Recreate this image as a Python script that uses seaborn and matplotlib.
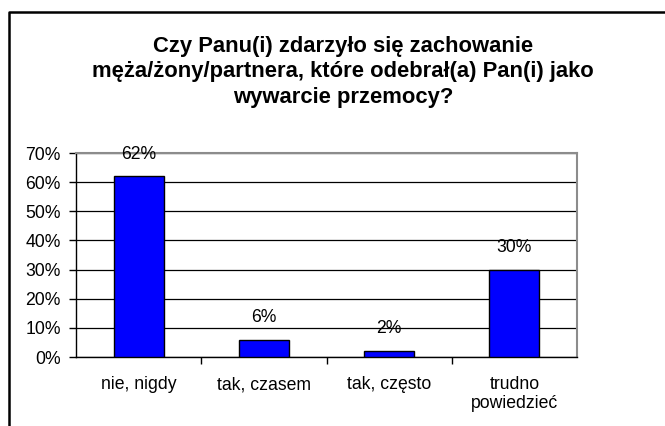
import matplotlib.pyplot as plt
import pandas as pd
import seaborn as sns
from matplotlib.lines import Line2D
from matplotlib.ticker import MultipleLocator, PercentFormatter

TITLE = "Czy Panu(i) zdarzyło się zachowanie\nmęża/żony/partnera, które odebrał(a) Pan(i) jako\nwywarcie przemocy?"
CATEGORIES = ["nie, nigdy", "tak, czasem", "tak, często", "trudno\npowiedzieć"]
VALUES = [62, 6, 2, 30]

BAR_COLOR = "#0000FF"

sns.set_theme(style="white")
plt.rcParams["font.family"] = ["Liberation Sans", "DejaVu Sans"]

df = pd.DataFrame({"category": CATEGORIES, "value": VALUES})

W, H = 665, 426
fig = plt.figure(figsize=(W / 100, H / 100), dpi=100)
fig.patch.set_facecolor("white")

# plot area in pixel coords
left, right, top, bottom = 76, 577, 153, 357
ax = fig.add_axes([left / W, 1 - bottom / H, (right - left) / W, (bottom - top) / H])

sns.barplot(data=df, x="category", y="value", color=BAR_COLOR, saturation=1,
            width=0.4, edgecolor="black", linewidth=1, ax=ax, zorder=3)

ax.set_ylim(0, 70)
ax.set_xlim(-0.5, 3.5)
ax.yaxis.set_major_locator(MultipleLocator(10))
ax.yaxis.set_major_formatter(PercentFormatter(decimals=0))
ax.grid(axis="y", color="black", linewidth=0.9, zorder=0)
ax.set_axisbelow(True)
ax.set_xlabel("")
ax.set_ylabel("")

for side in ["top", "right"]:
    ax.spines[side].set_color("#8c8c8c")
    ax.spines[side].set_linewidth(1.5)
for side in ["left", "bottom"]:
    ax.spines[side].set_color("black")
    ax.spines[side].set_linewidth(1)

ax.tick_params(axis="y", which="major", left=True, length=5, width=1, color="black",
               labelsize=12.7, pad=6, labelcolor="black")
ax.tick_params(axis="x", which="major", bottom=False, labelsize=12.7, pad=8, labelcolor="black")
ax.set_xticks([0.5, 1.5, 2.5], minor=True)
ax.tick_params(axis="x", which="minor", bottom=True, length=5, width=1, color="black")
for lbl in ax.get_xticklabels():
    lbl.set_linespacing(1.15)

for i, v in enumerate(VALUES):
    ax.annotate(f"{v}%", (i, v), xytext=(0, 16), textcoords="offset points",
                ha="center", va="center", fontsize=12.7, color="black")

fig.text(343 / W, 1 - 72 / H, TITLE, ha="center", va="center", fontsize=15.8,
         fontweight="bold", linespacing=1.3, color="black")

# outer chart frame (top and left edges visible, rest cut off)
fig.add_artist(Line2D([9 / W, 9 / W, 1.0], [0.0, 1 - 12 / H, 1 - 12 / H],
                      transform=fig.transFigure, color="black", linewidth=1.8))

fig.savefig("out.png", dpi=100)
